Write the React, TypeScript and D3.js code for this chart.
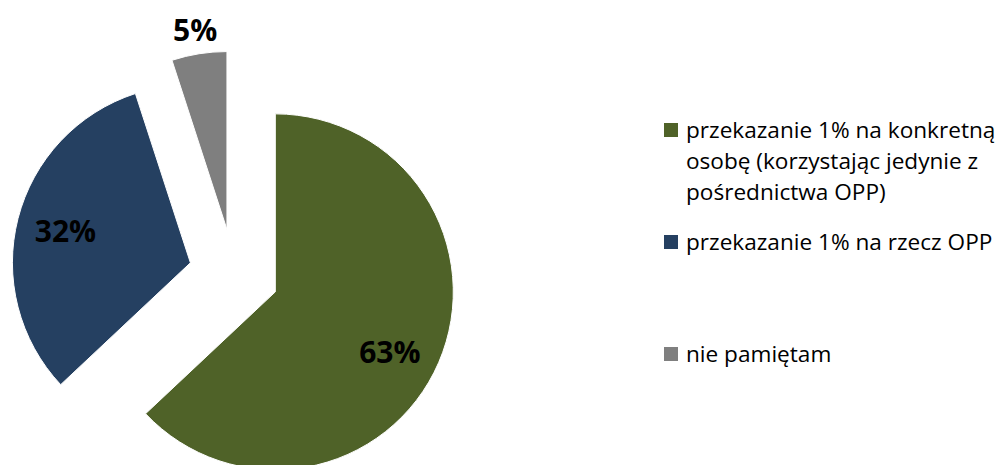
import React from "react";
import * as d3 from "d3";

const categories: string[] = [
  "przekazanie 1% na konkretną osobę (korzystając jedynie z pośrednictwa OPP)",
  "przekazanie 1% na rzecz OPP",
  "nie pamiętam",
];
const legendLines: string[][] = [
  ["przekazanie 1% na konkretną", "osobę (korzystając jedynie z", "pośrednictwa OPP)"],
  ["przekazanie 1% na rzecz OPP"],
  ["nie pamiętam"],
];
const values: number[] = [63, 32, 5];
const labels: string[] = ["63%", "32%", "5%"];
const colors: string[] = ["#4F6228", "#254061", "#7F7F7F"];

const W = 1005;
const H = 465;
const CX = 234;
const CY = 274;
const R = 178;
const EXPLODE = 45;

export default function App() {
  const pie = d3
    .pie<number>()
    .sort(null)
    .value((d) => d)
    .startAngle(0)
    .endAngle(2 * Math.PI);
  const arcs = pie(values);
  const arc = d3.arc<d3.PieArcDatum<number>>().innerRadius(0).outerRadius(R);

  const legendX = 664;
  const textX = 686;
  const entryBaselines = [138, 250, 362];
  const lineH = 31;

  return (
    <svg
      width={W}
      height={H}
      style={{ position: "absolute", left: 0, top: 0, display: "block", background: "#fff" }}
    >
      <g transform={`translate(${CX},${CY})`}>
        {arcs.map((a, i) => {
          const mid = (a.startAngle + a.endAngle) / 2;
          const dx = Math.sin(mid) * EXPLODE;
          const dy = -Math.cos(mid) * EXPLODE;
          const small = a.value < 10;
          const big = a.value > 50;
          const lr = small ? R + 25 : R * 0.725;
          const la = big ? mid + 0.07 : mid;
          const lx = Math.sin(la) * lr;
          const ly = -Math.cos(la) * lr;
          return (
            <g key={i} transform={`translate(${dx},${dy})`}>
              <path d={arc(a) || ""} fill={colors[i]} stroke="#fff" strokeWidth={1} />
              <text
                x={lx}
                y={ly}
                textAnchor="middle"
                dominantBaseline="central"
                fontFamily="'Open Sans', sans-serif"
                fontWeight={700}
                fontSize={30}
                fill="#000"
              >
                {labels[i]}
              </text>
            </g>
          );
        })}
      </g>
      <g>
        {categories.map((c, i) => (
          <g key={c}>
            <rect
              x={legendX}
              y={entryBaselines[i] - 15}
              width={14}
              height={14}
              fill={colors[i]}
            />
            <text
              fontFamily="'Open Sans', sans-serif"
              fontSize={22.6}
              fill="#000"
            >
              {legendLines[i].map((ln, j) => (
                <tspan key={j} x={textX} y={entryBaselines[i] + j * lineH}>
                  {ln}
                </tspan>
              ))}
            </text>
          </g>
        ))}
      </g>
    </svg>
  );
}
